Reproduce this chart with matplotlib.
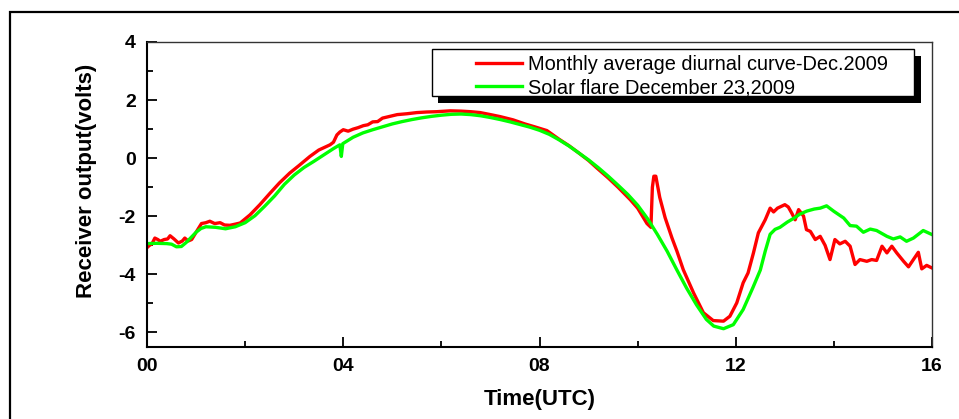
import numpy as np
import matplotlib
matplotlib.use('Agg')
from matplotlib import pyplot as plt
from matplotlib.patches import Rectangle

plt.rcParams['font.family'] = ['Liberation Sans', 'DejaVu Sans']
plt.rcParams['axes.unicode_minus'] = False

# Solar flare December 23,2009 (green)
green_t = [0.0, 0.2, 0.4, 0.5, 0.6, 0.7, 0.8, 1.0, 1.1, 1.2, 1.4, 1.6, 1.8, 2.0,
           2.2, 2.4, 2.6, 2.8, 3.0, 3.2, 3.4, 3.6, 3.8, 3.93, 3.96, 3.99, 4.2,
           4.4, 4.6, 4.8, 5.0, 5.2, 5.4, 5.6, 5.8, 6.0, 6.2, 6.4, 6.6, 6.8, 7.0,
           7.2, 7.4, 7.6, 7.8, 8.0, 8.2, 8.4, 8.6, 8.8, 9.0, 9.2, 9.4, 9.6, 9.8,
           10.0, 10.2, 10.4, 10.6, 10.8, 11.0, 11.2, 11.4, 11.55, 11.75, 11.95,
           12.15, 12.35, 12.5, 12.6, 12.7, 12.8, 12.9, 13.05, 13.2, 13.3, 13.45,
           13.6, 13.72, 13.85, 14.0, 14.2, 14.33, 14.46, 14.6, 14.74, 14.87,
           15.08, 15.21, 15.35, 15.48, 15.62, 15.82, 16.0]
green_v = [-2.94, -2.93, -2.94, -2.96, -3.05, -3.04, -2.9, -2.55, -2.42, -2.36,
           -2.38, -2.43, -2.36, -2.22, -1.98, -1.65, -1.3, -0.9, -0.58, -0.32,
           -0.11, 0.11, 0.33, 0.46, 0.06, 0.5, 0.72, 0.87, 0.98, 1.08, 1.18,
           1.26, 1.33, 1.39, 1.44, 1.48, 1.51, 1.52, 1.5, 1.46, 1.4, 1.33, 1.25,
           1.16, 1.07, 0.96, 0.82, 0.63, 0.42, 0.18, -0.06, -0.33, -0.62, -0.93,
           -1.25, -1.62, -2.08, -2.62, -3.2, -3.85, -4.48, -5.05, -5.55, -5.78,
           -5.87, -5.73, -5.21, -4.45, -3.85, -3.2, -2.62, -2.45, -2.38, -2.2,
           -2.05, -1.93, -1.82, -1.75, -1.72, -1.64, -1.83, -2.06, -2.32, -2.34,
           -2.55, -2.44, -2.49, -2.69, -2.78, -2.71, -2.86, -2.75, -2.49, -2.63]

# Monthly average diurnal curve-Dec.2009 (red)
red_t = [0.0, 0.05, 0.1, 0.16, 0.22, 0.27, 0.35, 0.42, 0.47, 0.55, 0.64, 0.72,
         0.77, 0.84, 0.91, 1.0, 1.11, 1.2, 1.28, 1.38, 1.49, 1.58, 1.69, 1.8,
         1.9, 2.1, 2.3, 2.51, 2.7, 2.91, 3.1, 3.32, 3.5, 3.73, 3.8, 3.87, 3.93,
         4.0, 4.1, 4.2, 4.3, 4.41, 4.5, 4.6, 4.7, 4.8, 4.95, 5.1, 5.3, 5.5,
         5.7, 5.9, 6.18, 6.4, 6.6, 6.79, 7.0, 7.2, 7.46, 7.7, 7.9, 8.15, 8.4,
         8.6, 8.8, 9.0, 9.17, 9.4, 9.6, 9.85, 10.0, 10.19, 10.27, 10.3, 10.33,
         10.37, 10.45, 10.56, 10.7, 10.8, 10.93, 11.14, 11.34, 11.54, 11.75,
         11.88, 12.02, 12.15, 12.25, 12.36, 12.46, 12.6, 12.7, 12.77, 12.85,
         13.0, 13.07, 13.14, 13.21, 13.28, 13.38, 13.44, 13.52, 13.62, 13.72,
         13.82, 13.92, 14.02, 14.12, 14.23, 14.33, 14.43, 14.53, 14.67, 14.77,
         14.87, 14.98, 15.08, 15.18, 15.28, 15.42, 15.52, 15.62, 15.72, 15.79,
         15.89, 16.0]
red_v = [-3.08, -3.0, -2.95, -2.75, -2.8, -2.86, -2.8, -2.78, -2.67, -2.78,
         -2.92, -2.85, -2.75, -2.85, -2.8, -2.55, -2.25, -2.22, -2.17, -2.25,
         -2.22, -2.3, -2.31, -2.27, -2.23, -1.95, -1.6, -1.2, -0.85, -0.51,
         -0.25, 0.06, 0.28, 0.46, 0.55, 0.8, 0.9, 0.98, 0.93, 1.0, 1.05, 1.12,
         1.15, 1.25, 1.26, 1.38, 1.44, 1.5, 1.53, 1.57, 1.59, 1.6, 1.63, 1.62,
         1.6, 1.57, 1.5, 1.43, 1.32, 1.18, 1.08, 0.95, 0.65, 0.43, 0.18, -0.08,
         -0.34, -0.68, -1.0, -1.43, -1.72, -2.25, -2.38, -1.0, -0.62, -0.62,
         -1.35, -2.05, -2.75, -3.2, -3.84, -4.64, -5.32, -5.59, -5.61, -5.44,
         -4.98, -4.29, -3.95, -3.26, -2.57, -2.12, -1.72, -1.85, -1.72, -1.6,
         -1.68, -1.89, -2.12, -1.77, -1.99, -2.46, -2.52, -2.8, -2.69, -3.0,
         -3.49, -2.8, -2.95, -2.86, -3.03, -3.66, -3.49, -3.55, -3.49, -3.52,
         -3.03, -3.26, -3.03, -3.26, -3.55, -3.74, -3.49, -3.24, -3.81, -3.69,
         -3.78]

x_ticks = [0, 4, 8, 12, 16]
x_labels = ['00', '04', '08', '12', '16']
y_ticks = [-6, -4, -2, 0, 2, 4]

fig = plt.figure(figsize=(9.59, 4.19), dpi=100)
ax = fig.add_axes([0.1533, 0.1718, 0.8186, 0.728])

ax.plot(red_t, red_v, color='#ff0000', lw=2.4, label='Monthly average diurnal curve-Dec.2009')
ax.plot(green_t, green_v, color='#00ff00', lw=2.4, label='Solar flare December 23,2009')

ax.set_xlim(0, 16)
ax.set_ylim(-6.5, 4)
ax.set_xticks(x_ticks)
ax.set_xticklabels(x_labels)
ax.set_xticks([2, 6, 10, 14], minor=True)
ax.set_yticks(y_ticks)
ax.set_yticks([-5, -3, -1, 1, 3], minor=True)
ax.tick_params(which='major', direction='in', length=7, width=1.3, labelsize=14, pad=8)
ax.tick_params(which='minor', direction='in', length=4, width=1.3)
for lab in ax.get_xticklabels() + ax.get_yticklabels():
    lab.set_fontweight('bold')

for s in ['left', 'bottom']:
    ax.spines[s].set_linewidth(1.5)
for s in ['top', 'right']:
    ax.spines[s].set_linewidth(1.0)
    ax.spines[s].set_color('#333333')

ax.set_xlabel('Time(UTC)', fontsize=16, fontweight='bold', labelpad=10)
ax.set_ylabel('Receiver output(volts)', fontsize=16, fontweight='bold')
ax.yaxis.set_label_coords(-0.064, 0.544)

# legend frame with solid shadow
ax.add_patch(Rectangle((0.3710, 0.800), 0.6144, 0.154, transform=ax.transAxes,
                       facecolor='black', edgecolor='none', zorder=5))
ax.add_patch(Rectangle((0.3627, 0.823), 0.6144, 0.154, transform=ax.transAxes,
                       facecolor='white', edgecolor='black', lw=1.0, zorder=6))
leg = ax.legend(loc='upper left', bbox_to_anchor=(0.4191, 0.958), frameon=False,
                fontsize=14.4, borderpad=0, borderaxespad=0, handlelength=2.3,
                handletextpad=0.3, labelspacing=0.22)
leg.set_zorder(7)

# outer border of the figure
fig.add_artist(Rectangle((10 / 959, -0.5), 1.5, 0.5 + (1 - 12 / 419),
                         transform=fig.transFigure, fill=False, edgecolor='black',
                         lw=1.6, clip_on=False))

fig.savefig('out.png', dpi=100)
